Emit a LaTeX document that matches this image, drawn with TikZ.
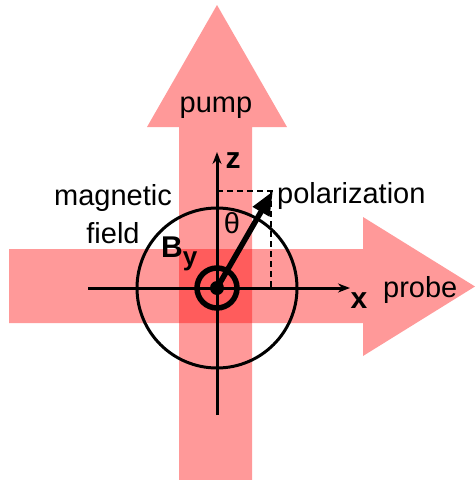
\documentclass[tikz,border=0pt]{standalone}
\usepackage{fontspec}
\setmainfont{Liberation Sans}
\usetikzlibrary{arrows.meta}
\begin{document}
\begin{tikzpicture}[x=1pt,y=-1pt,
  beam/.style={fill=red,fill opacity=0.4,draw=none},
  lbl/.style={inner sep=0pt,font=\fontsize{29}{34}\selectfont},
  blbl/.style={inner sep=0pt,font=\fontsize{30}{34}\selectfont\bfseries},
  axis/.style={line width=3pt,-{Stealth[length=12pt,width=9pt]}},
  dashline/.style={line width=2pt,dash pattern=on 6pt off 4pt}]
\useasboundingbox (0,0) rectangle (475,480);
% beams
\path[beam] (179,480) -- (179,127) -- (147,127) -- (217,5) -- (287,127) -- (252,127) -- (252,480) -- cycle;
\path[beam] (9,249) -- (363,249) -- (363,217) -- (475,286.5) -- (363,356) -- (363,323) -- (9,323) -- cycle;
% named points
\coordinate (O) at (217,288);
\coordinate (P) at (273,191);
\coordinate (Zt) at (217,152);
\coordinate (Zb) at (217,415);
\coordinate (Xl) at (88,288);
\coordinate (Xr) at (350,288);
\coordinate (Pz) at (217,191);
\coordinate (Px) at (271,288);
% circles
\draw[line width=3pt] (O) circle[radius=80];
\draw[line width=5.5pt] (O) circle[radius=20];
\fill (O) circle[radius=7];
% axes
\draw[axis] (Zb) -- (Zt);
\draw[axis] (Xl) -- (Xr);
% dashed projections
\draw[dashline] (Pz) -- (P |- Pz) coordinate (Pc);
\draw[dashline] (Px |- P) -- (Px);
% polarization arrow
\draw[line width=5.5pt,-{Triangle[length=24pt,width=18pt]}] (O) -- (P);
% labels
\node[lbl,anchor=base] (pump) at (216,112) {pump};
\node[lbl,anchor=base] (mag) at (113,205) {magnetic};
\node[lbl,anchor=base] (fld) at (113,243) {field};
\node[lbl,anchor=base west] (pol) at (277,203) {polarization};
\node[lbl,anchor=base west] (probe) at (383,297) {probe};
\node[lbl,anchor=base] (th) at (232,233) {θ};
\node[blbl,anchor=base] (z) at (233,168) {z};
\node[blbl,anchor=base] (x) at (359,308) {x};
\node[blbl,anchor=base west] (B) at (161,257) {B\raisebox{-8pt}{\fontsize{26}{30}\selectfont y}};
\end{tikzpicture}
\end{document}
